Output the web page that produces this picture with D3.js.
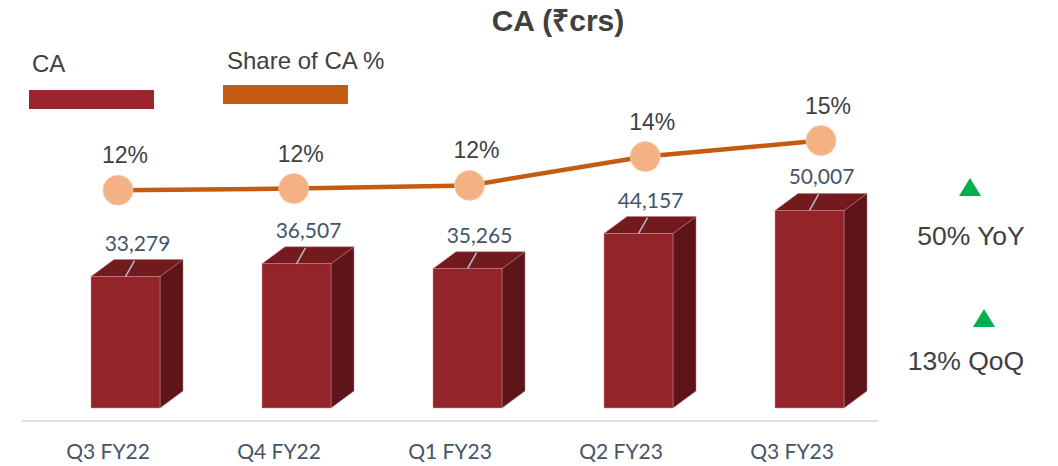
<!DOCTYPE html>
<html>
<head>
<meta charset="utf-8">
<script src="https://cdn.jsdelivr.net/npm/d3@7"></script>
<style>
  body { margin: 0; background: #fff; }
  svg { display: block; }
</style>
</head>
<body>
<div id="chart"></div>
<script>
// data
const quarters = ["Q3 FY22", "Q4 FY22", "Q1 FY23", "Q2 FY23", "Q3 FY23"];
const caValues = [33279, 36507, 35265, 44157, 50007];
const caShare = [11.8, 11.9, 12.1, 13.9, 14.9];
const growthNotes = ["50% YoY", "13% QoQ"];

const width = 1058, height = 466;
const depthX = 23, depthY = 17; // fake 3d depth of the columns

const svg = d3.select("#chart")
  .append("svg")
  .attr("width", width)
  .attr("height", height);

// category scale (labels), bars sit a bit to the right of the label because of the 3d look
const x = d3.scaleBand()
  .domain(quarters)
  .range([22.5, 877.5]);

const barW = 69;
const barShift = 17.5;
function frontCenter(q) { return x(q) + x.bandwidth() / 2 + barShift; }

const y = d3.scaleLinear()
  .domain([0, 60000])
  .range([408, 171]);

// secondary scale for share %
const xLine = d3.scalePoint()
  .domain(quarters)
  .range([118, 821]);

const y2 = d3.scaleLinear()
  .domain([10, 16])
  .range([219, 123]);

// title
svg.append("text")
  .attr("x", 558)
  .attr("y", 31)
  .attr("text-anchor", "middle")
  .style("font-family", "'Liberation Sans', Arial, sans-serif")
  .style("font-weight", "bold")
  .style("font-size", "30px")
  .style("fill", "#404040")
  .text("CA (₹crs)");

// legend
const legend = [
  { label: "CA", color: "#9a252b", tx: 32, ty: 72, rx: 29, ry: 90 },
  { label: "Share of CA %", color: "#c55a11", tx: 227, ty: 69, rx: 223, ry: 85 }
];
legend.forEach(function(l) {
  svg.append("text")
    .attr("x", l.tx)
    .attr("y", l.ty)
    .style("font-family", "'Liberation Sans', Arial, sans-serif")
    .style("font-size", "24px")
    .style("fill", "#404040")
    .text(l.label);
  svg.append("rect")
    .attr("x", l.rx)
    .attr("y", l.ry)
    .attr("width", 125)
    .attr("height", 19)
    .attr("fill", l.color);
});

// axis base line
const axisY = 421;
svg.append("line")
  .attr("x1", 22)
  .attr("x2", 878)
  .attr("y1", axisY)
  .attr("y2", axisY)
  .attr("stroke", "#dde1e7")
  .attr("stroke-width", 2);

// category labels
svg.selectAll(".cat")
  .data(quarters)
  .enter().append("text")
  .attr("class", "cat")
  .attr("x", function(d) { return x(d) + x.bandwidth() / 2; })
  .attr("y", 459)
  .attr("text-anchor", "middle")
  .style("font-family", "Lato, sans-serif")
  .style("font-size", "21px")
  .style("fill", "#44546a")
  .text(function(d) { return d; });

// 3d columns
const bars = svg.selectAll(".bar")
  .data(quarters.map(function(q, i) { return { q: q, v: caValues[i] }; }))
  .enter().append("g")
  .attr("class", "bar");

// side face
bars.append("path")
  .attr("d", function(d) {
    const x1 = frontCenter(d.q) + barW / 2, top = y(d.v), bot = y(0);
    return "M" + x1 + "," + top + "L" + (x1 + depthX) + "," + (top - depthY) +
      "L" + (x1 + depthX) + "," + (bot - depthY) + "L" + x1 + "," + bot + "Z";
  })
  .attr("fill", "#5e1519")
  .attr("stroke", "#b97a7d")
  .attr("stroke-width", 0.5);

// top face
bars.append("path")
  .attr("d", function(d) {
    const x0 = frontCenter(d.q) - barW / 2, x1 = x0 + barW, top = y(d.v);
    return "M" + x0 + "," + top + "L" + (x0 + depthX) + "," + (top - depthY) +
      "L" + (x1 + depthX) + "," + (top - depthY) + "L" + x1 + "," + top + "Z";
  })
  .attr("fill", "#731a1e")
  .attr("stroke", "#b97a7d")
  .attr("stroke-width", 0.5);

// front face
bars.append("rect")
  .attr("x", function(d) { return frontCenter(d.q) - barW / 2; })
  .attr("y", function(d) { return y(d.v); })
  .attr("width", barW)
  .attr("height", function(d) { return y(0) - y(d.v); })
  .attr("fill", "#95232a")
  .attr("stroke", "#c99295")
  .attr("stroke-width", 0.5);

// leader lines + value labels
bars.append("line")
  .attr("x1", function(d) { return frontCenter(d.q); })
  .attr("y1", function(d) { return y(d.v); })
  .attr("x2", function(d) { return frontCenter(d.q) + 9; })
  .attr("y2", function(d) { return y(d.v) - 16; })
  .attr("stroke", "#b4c0d0")
  .attr("stroke-width", 1.5);

bars.append("text")
  .attr("x", function(d) { return frontCenter(d.q) + 12; })
  .attr("y", function(d) { return y(d.v) - 26; })
  .attr("text-anchor", "middle")
  .style("font-family", "Lato, sans-serif")
  .style("font-size", "21px")
  .style("fill", "#44546a")
  .text(function(d) { return d3.format(",")(d.v); });

// share line
const lineData = quarters.map(function(q, i) { return { q: q, v: caShare[i] }; });

svg.append("path")
  .datum(lineData)
  .attr("fill", "none")
  .attr("stroke", "#c55a11")
  .attr("stroke-width", 4.5)
  .attr("d", d3.line()
    .x(function(d) { return xLine(d.q); })
    .y(function(d) { return y2(d.v); }));

svg.selectAll(".dot")
  .data(lineData)
  .enter().append("circle")
  .attr("class", "dot")
  .attr("cx", function(d) { return xLine(d.q); })
  .attr("cy", function(d) { return y2(d.v); })
  .attr("r", 15)
  .attr("fill", "#f4b183")
  .attr("stroke", "#f8c9a8")
  .attr("stroke-width", 0.8);

svg.selectAll(".pct")
  .data(lineData)
  .enter().append("text")
  .attr("class", "pct")
  .attr("x", function(d) { return xLine(d.q) + 7; })
  .attr("y", function(d) { return y2(d.v) - 27; })
  .attr("text-anchor", "middle")
  .style("font-family", "'Liberation Sans', Arial, sans-serif")
  .style("font-size", "23px")
  .style("fill", "#404040")
  .text(function(d) { return d3.format(".0f")(d.v) + "%"; });

// growth notes on the right
const notePos = [
  { tx: 971, ty: 245, ax: 970, ay: 178 },
  { tx: 966, ty: 370, ax: 984, ay: 309 }
];
growthNotes.forEach(function(n, i) {
  const p = notePos[i];
  svg.append("path")
    .attr("d", "M" + p.ax + "," + p.ay + "L" + (p.ax + 11) + "," + (p.ay + 18) +
      "L" + (p.ax - 11) + "," + (p.ay + 18) + "Z")
    .attr("fill", "#00b050");
  svg.append("text")
    .attr("x", p.tx)
    .attr("y", p.ty)
    .attr("text-anchor", "middle")
    .style("font-family", "'Liberation Sans', Arial, sans-serif")
    .style("font-size", "26.5px")
    .style("fill", "#404040")
    .text(n);
});
</script>
</body>
</html>
